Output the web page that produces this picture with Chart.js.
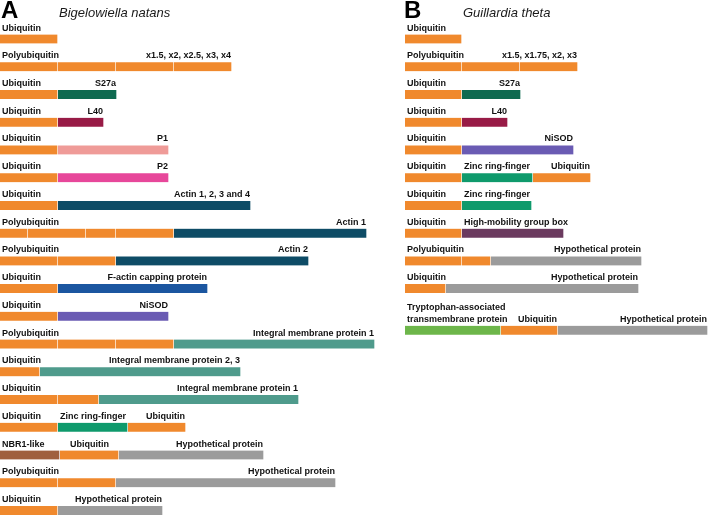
<!DOCTYPE html>
<html><head><meta charset="utf-8">
<script src="https://cdn.jsdelivr.net/npm/chart.js@4.4.1/dist/chart.umd.min.js"></script>
<style>
html,body{margin:0;padding:0;background:#fff;}
#wrapA{position:absolute;left:0;top:0;width:400px;height:515px;}
#wrapB{position:absolute;left:405px;top:0;width:304px;height:515px;}
</style></head><body>
<div id="wrapA"><canvas id="cA"></canvas></div>
<div id="wrapB"><canvas id="cB"></canvas></div>
<script>
// ---------- DATA ----------
// Panel A: Bigelowiella natans — segment lengths (relative length units)
const rowsA = [0,1,2,3,4,5,6,7,8,9,10,11,12,13,14,15,16,17];
const segLenA = [
  [58],
  [58,58,58,58],
  [58,59],
  [58,46],
  [58,111],
  [58,111],
  [58,193],
  [28,58,30,58,193],
  [58,58,193],
  [58,150],
  [58,111],
  [58,58,58,201],
  [40,201],
  [58,41,200],
  [58,70,58],
  [60,59,145],
  [58,58,220],
  [58,105]
];
const segTypeA = [
  ['ubi'],
  ['ubi','ubi','ubi','ubi'],
  ['ubi','s27a'],
  ['ubi','l40'],
  ['ubi','p1'],
  ['ubi','p2'],
  ['ubi','actin'],
  ['ubi','ubi','ubi','ubi','actin'],
  ['ubi','ubi','actin'],
  ['ubi','factin'],
  ['ubi','nisod'],
  ['ubi','ubi','ubi','imp'],
  ['ubi','imp'],
  ['ubi','ubi','imp'],
  ['ubi','zinc','ubi'],
  ['nbr1','ubi','hyp'],
  ['ubi','ubi','hyp'],
  ['ubi','hyp']
];
// labels: [row, segment index, text, anchor]
const labelsA = [
  [0,0,'Ubiquitin','start'],
  [1,0,'Polyubiquitin','start'],[1,3,'x1.5, x2, x2.5, x3, x4','end'],
  [2,0,'Ubiquitin','start'],[2,1,'S27a','end'],
  [3,0,'Ubiquitin','start'],[3,1,'L40','end'],
  [4,0,'Ubiquitin','start'],[4,1,'P1','end'],
  [5,0,'Ubiquitin','start'],[5,1,'P2','end'],
  [6,0,'Ubiquitin','start'],[6,1,'Actin 1, 2, 3 and 4','end'],
  [7,0,'Polyubiquitin','start'],[7,4,'Actin 1','end'],
  [8,0,'Polyubiquitin','start'],[8,2,'Actin 2','end'],
  [9,0,'Ubiquitin','start'],[9,1,'F-actin capping protein','end'],
  [10,0,'Ubiquitin','start'],[10,1,'NiSOD','end'],
  [11,0,'Polyubiquitin','start'],[11,3,'Integral membrane protein 1','end'],
  [12,0,'Ubiquitin','start'],[12,1,'Integral membrane protein 2, 3','end'],
  [13,0,'Ubiquitin','start'],[13,2,'Integral membrane protein 1','end'],
  [14,0,'Ubiquitin','start'],[14,1,'Zinc ring-finger','start'],[14,2,'Ubiquitin','end'],
  [15,0,'NBR1-like','start'],[15,1,'Ubiquitin','center'],[15,2,'Hypothetical protein','end'],
  [16,0,'Polyubiquitin','start'],[16,2,'Hypothetical protein','end'],
  [17,0,'Ubiquitin','start'],[17,1,'Hypothetical protein','end']
];

// Panel B: Guillardia theta
const rowsB = [0,1,2,3,4,5,6,7,8,9,10.5];
const segLenB = [
  [57],
  [57,58,58],
  [57,59],
  [57,46],
  [57,112],
  [57,71,58],
  [57,70],
  [57,102],
  [57,29,151],
  [41,193],
  [96,57,150]
];
const segTypeB = [
  ['ubi'],
  ['ubi','ubi','ubi'],
  ['ubi','s27a'],
  ['ubi','l40'],
  ['ubi','nisod'],
  ['ubi','zinc','ubi'],
  ['ubi','zinc'],
  ['ubi','hmg'],
  ['ubi','ubi','hyp'],
  ['ubi','hyp'],
  ['trp','ubi','hyp']
];
const labelsB = [
  [0,0,'Ubiquitin','start'],
  [1,0,'Polyubiquitin','start'],[1,2,'x1.5, x1.75, x2, x3','end'],
  [2,0,'Ubiquitin','start'],[2,1,'S27a','end'],
  [3,0,'Ubiquitin','start'],[3,1,'L40','end'],
  [4,0,'Ubiquitin','start'],[4,1,'NiSOD','end'],
  [5,0,'Ubiquitin','start'],[5,1,'Zinc ring-finger','start'],[5,2,'Ubiquitin','end'],
  [6,0,'Ubiquitin','start'],[6,1,'Zinc ring-finger','start'],
  [7,0,'Ubiquitin','start'],[7,1,'High-mobility group box','start'],
  [8,0,'Polyubiquitin','start'],[8,2,'Hypothetical protein','end'],
  [9,0,'Ubiquitin','start'],[9,1,'Hypothetical protein','end'],
  [10,0,['Tryptophan-associated','transmembrane protein'],'start'],[10,1,'Ubiquitin','end'],[10,2,'Hypothetical protein','end']
];

const panelLetters = ['A','B'];
const speciesNames = ['Bigelowiella natans','Guillardia theta'];

// ---------- STYLE ----------
const colors = {
  ubi:'#F0892D', s27a:'#0F6A50', l40:'#981B46', p1:'#EF9B98', p2:'#E7479A',
  actin:'#0E4C66', factin:'#1B56A0', nisod:'#6A5BB3', imp:'#4F9B8C',
  zinc:'#0F9A6C', nbr1:'#A0603E', hyp:'#9B9B9B', hmg:'#6B3A5F', trp:'#6DB64A'
};

function buildPoints(rows, lens, types){
  const pts = [], cols = [], bounds = [];
  rows.forEach((r,i)=>{
    let s = 0; const b = [];
    lens[i].forEach((len,j)=>{
      pts.push({x:[s, s+len], y:r});
      cols.push(colors[types[i][j]]);
      b.push([s, s+len]);
      s += len;
    });
    bounds.push(b);
  });
  return {pts, cols, bounds};
}

function makeChart(id, rows, lens, types, labels, xMax, idx){
  const d = buildPoints(rows, lens, types);
  const textPlugin = {
    id:'texts'+idx,
    afterDatasetsDraw(chart){
      const ctx = chart.ctx, xs = chart.scales.x, ys = chart.scales.y;
      ctx.save();
      ctx.fillStyle = '#111';
      ctx.textBaseline = 'alphabetic';
      ctx.font = 'bold 9px "Liberation Sans", Arial, sans-serif';
      labels.forEach(([ri, si, text, anchor])=>{
        const seg = d.bounds[ri][si];
        const yc = ys.getPixelForValue(rows[ri]);
        const base = yc - 4.5 - 4;
        let x;
        if (anchor==='start'){ ctx.textAlign='left'; x = xs.getPixelForValue(seg[0]) + 2; }
        else if (anchor==='end'){ ctx.textAlign='right'; x = xs.getPixelForValue(seg[1]) - 1; }
        else { ctx.textAlign='center'; x = xs.getPixelForValue((seg[0]+seg[1])/2); }
        const lines = Array.isArray(text) ? text : [text];
        lines.forEach((t,k)=>{
          ctx.fillText(t, x, base - (lines.length-1-k)*11.5);
        });
      });
      // panel letter and species name
      ctx.textAlign='left';
      ctx.fillStyle = '#000';
      ctx.font = 'bold 24px "Liberation Sans", Arial, sans-serif';
      ctx.fillText(panelLetters[idx], idx===0 ? 1 : -1, 18);
      ctx.fillStyle = '#1a1a1a';
      ctx.font = 'italic 13px "Liberation Sans", Arial, sans-serif';
      ctx.fillText(speciesNames[idx], idx===0 ? 59 : 58, 17);
      ctx.restore();
    }
  };
  return new Chart(document.getElementById(id), {
    type:'bar',
    data:{ datasets:[{
      data:d.pts,
      backgroundColor:d.cols,
      borderColor:'#ffffff',
      borderWidth:{top:0,bottom:0,left:0,right:1},
      borderSkipped:false,
      barThickness:9,
      clip:false
    }]},
    options:{
      indexAxis:'y',
      responsive:true,
      maintainAspectRatio:false,
      animation:false,
      layout:{padding:{top:39,bottom:4.5,left:0,right:0}},
      plugins:{legend:{display:false},tooltip:{enabled:false},title:{display:false}},
      scales:{
        x:{type:'linear',min:0,max:xMax,display:false,offset:false},
        y:{type:'linear',min:0,max:17,reverse:true,display:false,offset:false}
      }
    },
    plugins:[textPlugin]
  });
}

makeChart('cA', rowsA, segLenA, segTypeA, labelsA, 400, 0);
makeChart('cB', rowsB, segLenB, segTypeB, labelsB, 304, 1);
</script>
</body></html>
